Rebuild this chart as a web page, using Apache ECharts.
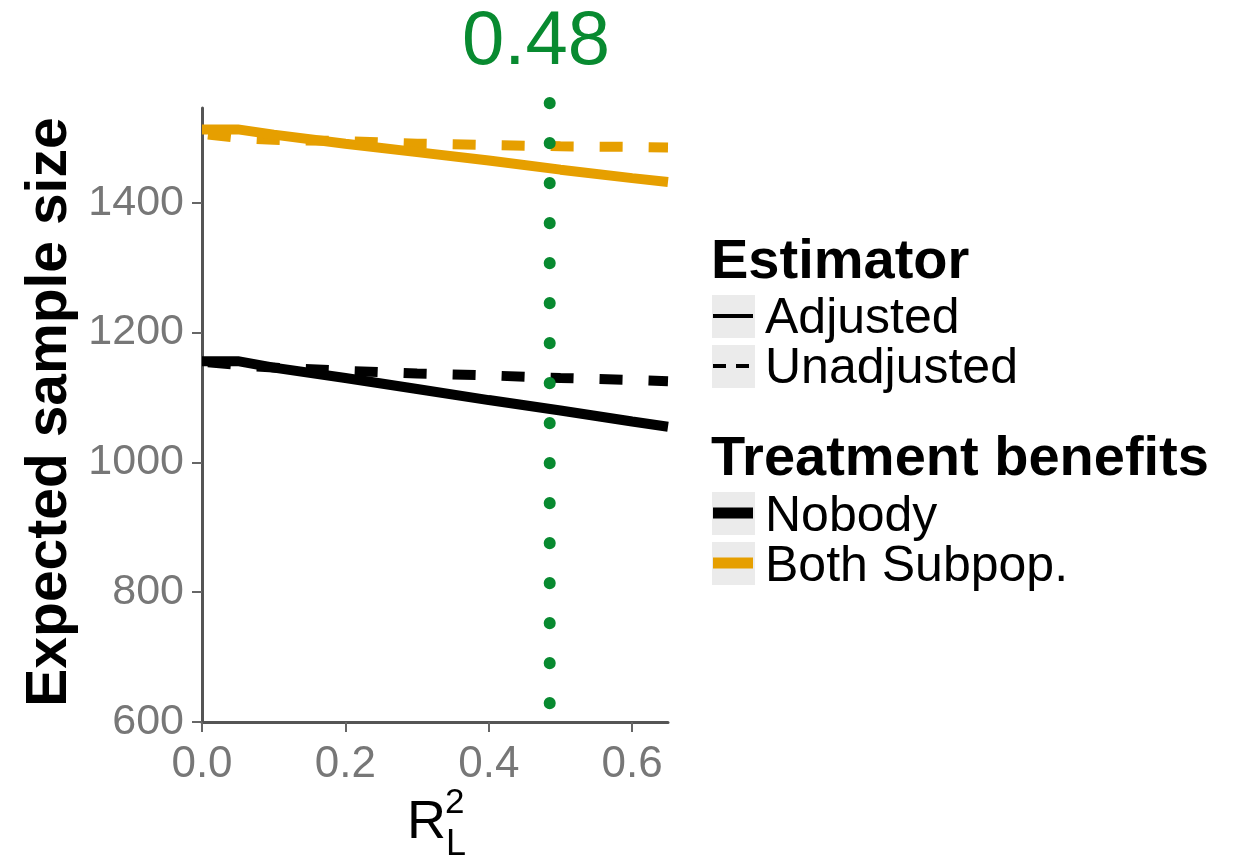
<!DOCTYPE html>
<html>
<head>
<meta charset="utf-8">
<script src="https://cdn.jsdelivr.net/npm/echarts@6/dist/echarts.min.js"></script>
<style>
  html, body { margin: 0; padding: 0; background: #fff; }
  #chart { width: 1246px; height: 861px; }
</style>
</head>
<body>
<div id="chart"></div>
<script>
// R^2_L values and expected sample sizes
const rsq = [0, 0.05, 0.1, 0.2, 0.3, 0.4, 0.5, 0.6, 0.65]
const nobodyAdjusted = [1156, 1156, 1146, 1130, 1113, 1096, 1080, 1063, 1055]
const nobodyUnadjusted = [1155, 1150, 1146, 1141, 1137, 1134, 1130, 1127, 1125]
const bothAdjusted = [1513, 1513, 1505, 1491, 1478, 1465, 1451, 1438, 1432]
const bothUnadjusted = [1506, 1500, 1497, 1495, 1491, 1489, 1487, 1486, 1485]
const cutoffX = 0.485
const cutoffY = [629, 1554]
const cutoffLabel = '0.48'
const xTicks = [0, 0.2, 0.4, 0.6]
const yTicks = [600, 800, 1000, 1200, 1400]

const FONT = "'Liberation Sans', Arial, Helvetica, sans-serif"
const ORANGE = '#E69F00'
const GREEN = '#088A30'
const GREY_KEY = '#ebebeb'

var chart = echarts.init(document.getElementById('chart'))

function pairs(xs, ys) {
  return xs.map((x, i) => [x, ys[i]])
}

function lineSeries(name, data, color, dashed) {
  return {
    name: name,
    type: 'line',
    data: pairs(rsq, data),
    symbol: 'none',
    silent: true,
    lineStyle: {
      color: color,
      width: 10,
      cap: 'butt',
      type: dashed ? [23, 26] : 'solid',
      dashOffset: dashed ? 43 : 0
    }
  }
}

// legend is drawn by hand (two titled groups like ggplot)
function legendKey(y) {
  return { type: 'rect', shape: { x: 712, y: y, width: 43, height: 43 }, style: { fill: GREY_KEY } }
}
function legendLine(y, color, width, dash) {
  return {
    type: 'line',
    shape: { x1: 713, y1: y, x2: 753, y2: y },
    style: { stroke: color, lineWidth: width, lineDash: dash || null }
  }
}
function legendText(text, y, bold, size) {
  return {
    type: 'text',
    x: bold ? 711 : 765,
    y: y,
    style: {
      text: text,
      font: (bold ? 'bold ' : '') + size + 'px ' + FONT,
      fill: '#000',
      align: 'left',
      verticalAlign: 'middle'
    }
  }
}

var option = {
  animation: false,
  backgroundColor: '#fff',
  grid: {
    left: 202,
    top: 108,
    width: 466,
    height: 614,
    containLabel: false,
    outerBoundsMode: 'none'
  },
  xAxis: {
    type: 'value',
    min: 0,
    max: 0.65,
    interval: 0.2,
    axisLine: { show: true, lineStyle: { color: '#555', width: 3 } },
    axisTick: { show: true, length: 10, lineStyle: { color: '#666', width: 2 } },
    axisLabel: {
      color: '#777',
      fontSize: 44,
      fontFamily: FONT,
      margin: 21,
      showMaxLabel: false,
      formatter: v => xTicks.includes(Math.round(v * 10) / 10) ? v.toFixed(1) : ''
    },
    splitLine: { show: false }
  },
  yAxis: {
    type: 'value',
    min: 600,
    max: 1546,
    interval: 200,
    axisLine: { show: true, lineStyle: { color: '#555', width: 3 } },
    axisTick: { show: true, length: 10, lineStyle: { color: '#666', width: 2 } },
    axisLabel: {
      color: '#777',
      fontSize: 43,
      fontFamily: FONT,
      margin: 18,
      showMaxLabel: false,
      formatter: v => yTicks.includes(v) ? String(v) : ''
    },
    splitLine: { show: false }
  },
  series: [
    lineSeries('Nobody Unadjusted', nobodyUnadjusted, '#000', true),
    lineSeries('Nobody Adjusted', nobodyAdjusted, '#000', false),
    lineSeries('Both Unadjusted', bothUnadjusted, ORANGE, true),
    lineSeries('Both Adjusted', bothAdjusted, ORANGE, false),
    {
      name: 'cutoff',
      type: 'line',
      data: [[cutoffX, cutoffY[0]], [cutoffX, cutoffY[1]]],
      symbol: 'none',
      silent: true,
      clip: false,
      z: 5,
      lineStyle: { color: GREEN, width: 12, cap: 'round', type: [0.1, 39.9] }
    }
  ],
  graphic: [
    {
      type: 'text',
      x: 50,
      y: 412,
      rotation: Math.PI / 2,
      style: {
        text: 'Expected sample size',
        font: 'bold 57px ' + FONT,
        fill: '#000',
        align: 'center',
        verticalAlign: 'middle'
      }
    },
    // x axis title R^2_L
    { type: 'text', x: 407, y: 823, style: { text: 'R', font: '54px ' + FONT, fill: '#000', align: 'left', verticalAlign: 'middle' } },
    { type: 'text', x: 445, y: 803, style: { text: '2', font: '35px ' + FONT, fill: '#000', align: 'left', verticalAlign: 'middle' } },
    { type: 'text', x: 446, y: 845, style: { text: 'L', font: '36px ' + FONT, fill: '#000', align: 'left', verticalAlign: 'middle' } },
    // green annotation
    {
      type: 'text',
      x: 536,
      y: 43,
      style: { text: cutoffLabel, font: '76px ' + FONT, fill: GREEN, align: 'center', verticalAlign: 'middle' }
    },
    // legend: Estimator
    legendText('Estimator', 263, true, 56),
    legendKey(295),
    legendLine(316, '#000', 4),
    legendText('Adjusted', 319, false, 50),
    legendKey(345),
    legendLine(366, '#000', 4, [13, 10]),
    legendText('Unadjusted', 369, false, 50),
    // legend: Treatment benefits
    legendText('Treatment benefits', 460, true, 56),
    legendKey(492),
    legendLine(513, '#000', 11),
    legendText('Nobody', 517, false, 50),
    legendKey(542),
    legendLine(563, ORANGE, 11),
    legendText('Both Subpop.', 567, false, 50)
  ]
}

chart.setOption(option)
</script>
</body>
</html>
